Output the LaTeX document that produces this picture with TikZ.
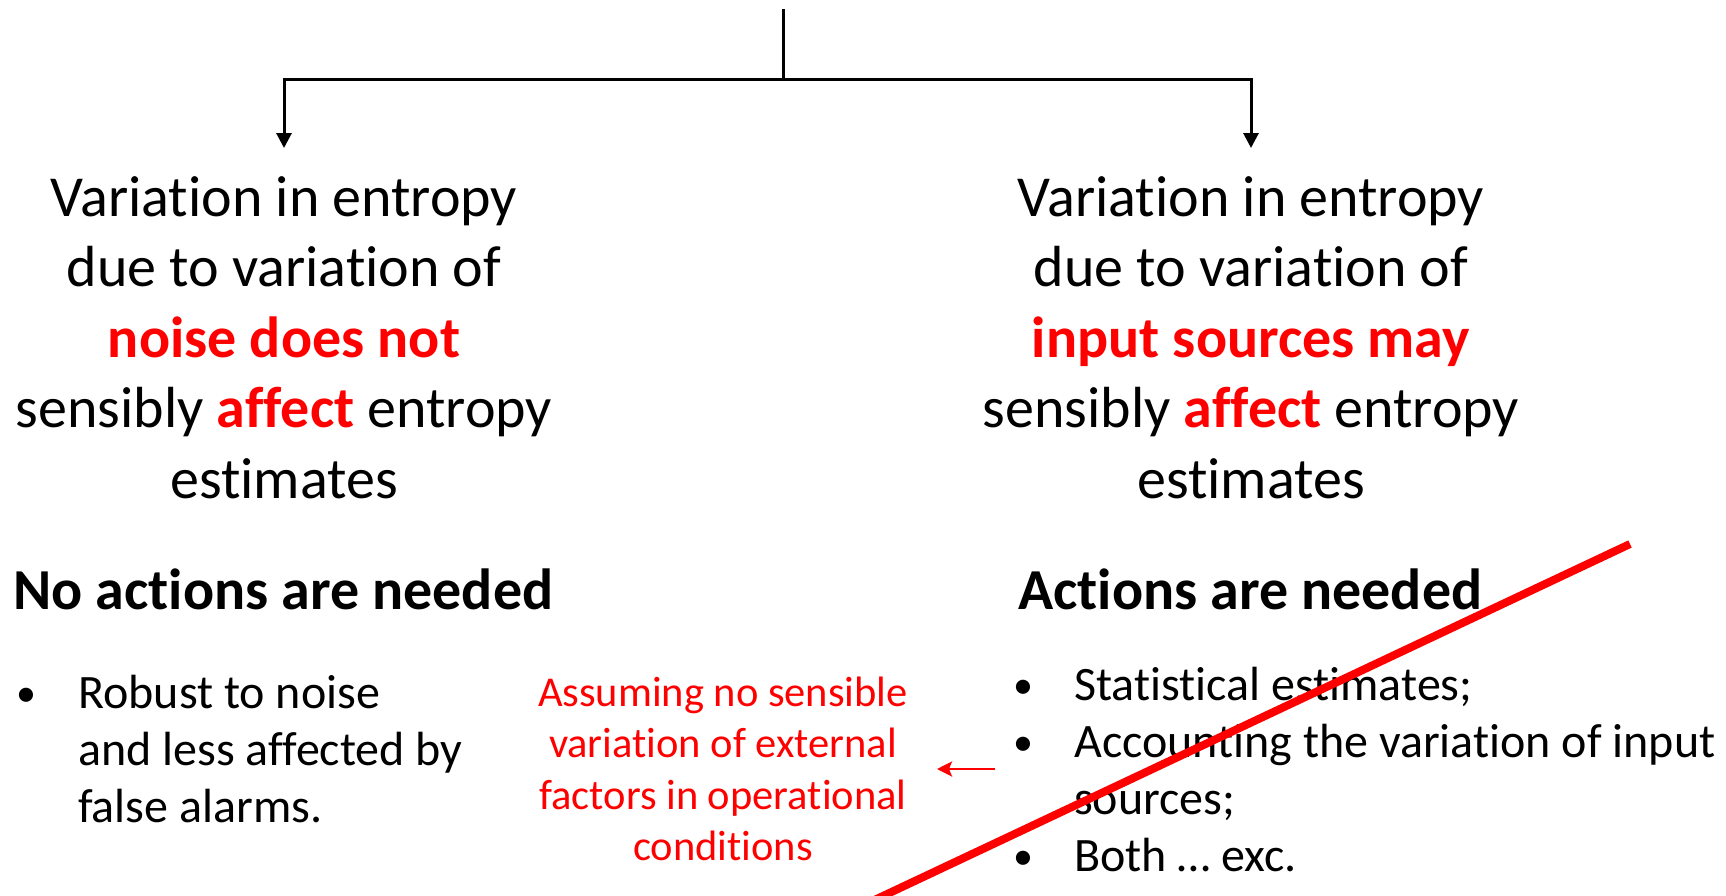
\documentclass[tikz,border=0pt]{standalone}
\usepackage{fontspec}
\setmainfont{Carlito}[RawFeature={-liga;-clig;-calt;-dlig}]
\usetikzlibrary{arrows.meta}
\definecolor{hot}{RGB}{255,0,0}
\tikzset{
  big/.style={inner sep=0pt, font=\fontsize{58}{70}\selectfont},
  bigc/.style={big, anchor=base},
  head/.style={inner sep=0pt, anchor=base west, font=\fontsize{58}{70}\selectfont\bfseries},
  itemtxt/.style={inner sep=0pt, anchor=base west, font=\fontsize{48}{57}\selectfont},
  dot/.style={inner sep=0pt, anchor=base, font=\fontsize{40}{48}\selectfont},
  note/.style={inner sep=0pt, anchor=base, text=hot, font=\fontsize{42.5}{51}\selectfont},
  conn/.style={line width=3pt, black},
  tip/.style={-{Triangle[width=15pt,length=15pt]}},
}
\begin{document}
\begin{tikzpicture}[x=1pt,y=-1pt]
\useasboundingbox (0,0) rectangle (1726,895);
% connectors
\coordinate (top) at (783,9);
\coordinate (mid) at (783,79);
\coordinate (ltip) at (284,148);
\coordinate (rtip) at (1251,148);
\draw[conn] (top) -- (mid);
\draw[conn,tip] (mid) -| (ltip);
\draw[conn,tip] (mid) -| (rtip);
% left block
\node[bigc] (l1) at (284,216) {Variation in entropy};
\node[bigc] (l2) at (284,286) {due to variation of};
\node[bigc] (l3) at (284,357) {\textcolor{hot}{\bfseries noise does not}};
\node[bigc] (l4) at (284,427) {sensibly \textcolor{hot}{\bfseries affect} entropy};
\node[bigc] (l5) at (284,498) {estimates};
% right block
\node[bigc] (r1) at (1251,216) {Variation in entropy};
\node[bigc] (r2) at (1251,286) {due to variation of};
\node[bigc] (r3) at (1251,357) {\textcolor{hot}{\bfseries input sources may}};
\node[bigc] (r4) at (1251,427) {sensibly \textcolor{hot}{\bfseries affect} entropy};
\node[bigc] (r5) at (1251,498) {estimates};
% headings
\node[head] (lh) at (13,609) {No actions are needed};
\node[head] (rh) at (1018,609) {Actions are needed};
% left bullets
\node[dot] (lb1) at (26,706) {•};
\node[itemtxt] (la1) at (78,708) {Robust to noise};
\node[itemtxt] (la2) at (78,765) {and less affected by};
\node[itemtxt] (la3) at (78,822) {false alarms.};
% right bullets
\node[dot] (rb1) at (1023,698) {•};
\node[itemtxt] (ra1) at (1074,700) {Statistical estimates;};
\node[dot] (rb2) at (1023,755) {•};
\node[itemtxt] (ra2) at (1074,757) {Accounting the variation of input};
\node[itemtxt] (ra3) at (1074,814) {sources;};
\node[dot] (rb3) at (1023,869) {•};
\node[itemtxt] (ra4) at (1074,871) {Both … exc.};
% red note
\node[note] (n1) at (723,706) {Assuming no sensible};
\node[note] (n2) at (723,757) {variation of external};
\node[note] (n3) at (723,809) {factors in operational};
\node[note] (n4) at (723,860) {conditions};
% red arrow
\coordinate (as) at (995,769);
\coordinate (ae) at (937,769);
\draw[hot,line width=2.7pt,-{Stealth[width=15pt,length=15pt,inset=3pt]}] (as) -- (ae);
% strike line
\coordinate (s1) at (1630,544);
\coordinate (s2) at (866,904);
\begin{scope}
\clip (0,0) rectangle (1726,895);
\draw[hot,line width=8pt] (s1) -- (s2);
\end{scope}
\end{tikzpicture}
\end{document}
